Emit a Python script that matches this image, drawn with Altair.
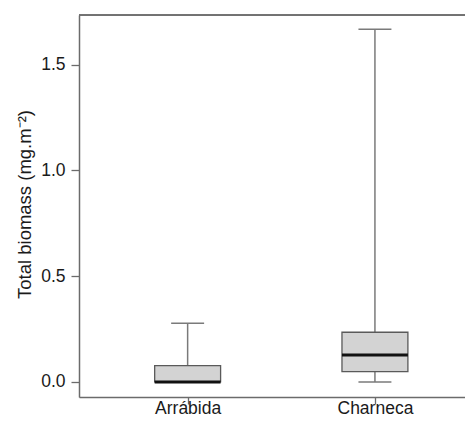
import altair as alt
import pandas as pd

# Data
sites = ["Arrábida", "Charneca"]
positions = [1, 2]
whisker_low = [0.0, 0.0]
q1 = [0.0, 0.049]
median = [0.0, 0.128]
q3 = [0.077, 0.235]
whisker_high = [0.277, 1.667]

df = pd.DataFrame({
    "site": sites,
    "pos": positions,
    "lo": whisker_low,
    "q1": q1,
    "med": median,
    "q3": q3,
    "hi": whisker_high,
})

BOX_HALF = 0.176
CAP_HALF = 0.088
W = 386
H = 382
FONT = "Liberation Sans"
TEXT = "#1a1a1a"
LINE = "#6b6b6b"

x_scale = alt.Scale(domain=[0.42, 0.42 + W / 187.3], nice=False, zero=False)
y_scale = alt.Scale(domain=[-0.071, 1.734], nice=False, zero=False)

label_expr = " : ".join(
    f"datum.value == {p} ? '{s}'" for p, s in zip(positions, sites)
) + " : ''"

x_axis = alt.Axis(
    values=positions, labelExpr=label_expr, title=None, grid=False,
    tickSize=7, tickColor=LINE, tickWidth=1.3, domainColor=LINE, domainWidth=1.5,
    labelFont=FONT, labelFontSize=17.5, labelColor=TEXT, labelPadding=9,
    labelBaseline="alphabetic",
)
y_axis = alt.Axis(
    values=[0, 0.5, 1.0, 1.5], format=".1f", title="Total biomass (mg.m⁻²)",
    grid=False, tickSize=8, tickColor=LINE, tickWidth=1.3, domainColor=LINE,
    domainWidth=1.5, labelFont=FONT, labelFontSize=17.5, labelColor=TEXT,
    labelPadding=6, titleFont=FONT, titleFontSize=18.5, titleFontWeight="normal",
    titleColor=TEXT, titleX=-49, titleY=189, titleAngle=270, titleAlign="center",
    titleBaseline="alphabetic",
)

base = alt.Chart(df).transform_calculate(
    bl=f"datum.pos - {BOX_HALF}", br=f"datum.pos + {BOX_HALF}",
    cl=f"datum.pos - {CAP_HALF}", cr=f"datum.pos + {CAP_HALF}",
)

whisk_up = base.mark_rule(color="#7a7a7a", strokeWidth=1.5).encode(
    x=alt.X("pos:Q", scale=x_scale, axis=x_axis),
    y=alt.Y("q3:Q", scale=y_scale, axis=y_axis),
    y2="hi:Q",
)
whisk_dn = base.mark_rule(color="#7a7a7a", strokeWidth=1.5).encode(
    x="pos:Q", y="lo:Q", y2="q1:Q",
)
cap_hi = base.mark_rule(color="#7a7a7a", strokeWidth=1.5).encode(
    x="cl:Q", x2="cr:Q", y="hi:Q",
)
cap_lo = base.mark_rule(color="#7a7a7a", strokeWidth=1.5).encode(
    x="cl:Q", x2="cr:Q", y="lo:Q",
)
box = base.mark_rect(fill="#d3d3d3", stroke="#5a5a5a", strokeWidth=1.3).encode(
    x="bl:Q", x2="br:Q", y="q1:Q", y2="q3:Q",
)
med = base.mark_rule(color="#111111", strokeWidth=3).encode(
    x="bl:Q", x2="br:Q", y="med:Q",
)
top_frame = alt.Chart(df).mark_rule(color=LINE, strokeWidth=1.5).encode(
    x=alt.value(0), x2=alt.value(W), y=alt.value(0),
)

chart = alt.layer(whisk_up, whisk_dn, cap_hi, cap_lo, box, med, top_frame).properties(
    width=W, height=H,
    autosize=alt.AutoSizeParams(type="none"),
    padding={"left": 71, "top": 7, "right": 0, "bottom": 21},
).configure_view(stroke=None).configure(background="white")

chart.save("out.html", embed_options={"renderer": "svg", "actions": False})
